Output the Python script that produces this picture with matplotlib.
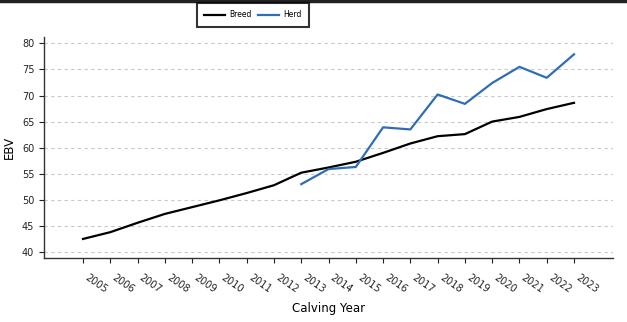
import matplotlib
matplotlib.use("Agg")
import matplotlib.pyplot as plt
from matplotlib.lines import Line2D
from matplotlib.transforms import ScaledTranslation

years = list(range(2005, 2024))
breed = [42.5, 43.8, 45.6, 47.3, 48.6, 49.9, 51.3, 52.8, 55.2, 56.2,
         57.3, 59.0, 60.8, 62.2, 62.6, 65.0, 65.9, 67.4, 68.6]
herd_years = list(range(2013, 2024))
herd = [53.0, 55.9, 56.3, 63.9, 63.5, 70.2, 68.4, 72.4, 75.5, 73.4, 77.9]
y_ticks = [40, 45, 50, 55, 60, 65, 70, 75, 80]

fig = plt.figure(figsize=(6.27, 3.22), dpi=100)
ax = fig.add_axes([0.0702, 0.1988, 0.9075, 0.686])

ax.plot(years, breed, color="black", lw=1.6, label="Breed")
ax.plot(herd_years, herd, color="#2f6db8", lw=1.6, label="Herd")

ax.set_xlim(2003.57, 2024.43)
ax.set_ylim(38.85, 81.2)
ax.set_yticks(y_ticks)
ax.set_xticks(years)
ax.set_xticklabels([str(y) for y in years], rotation=-35, ha="left",
                   rotation_mode="default")
shift = ScaledTranslation(-4 / 100, 0, fig.dpi_scale_trans)
for lbl in ax.get_xticklabels():
    lbl.set_transform(lbl.get_transform() + shift)
ax.tick_params(axis="both", labelsize=7, length=3.5, width=0.8, colors="#222222")
ax.tick_params(axis="x", pad=7)
ax.yaxis.grid(True, linestyle=(0, (3, 3)), color="#c8c8c8", lw=0.8)
ax.set_axisbelow(True)

for side in ("top", "right"):
    ax.spines[side].set_visible(False)
for side in ("left", "bottom"):
    ax.spines[side].set_color("#333333")
    ax.spines[side].set_linewidth(1.0)

ax.set_ylabel("EBV", fontsize=8.5, labelpad=4)
ax.set_xlabel("Calving Year", fontsize=8.5, labelpad=5)

leg = fig.legend(loc="upper center", bbox_to_anchor=(253 / 627, 1 - 3 / 322),
                 ncol=2, fontsize=5.5, frameon=True, fancybox=False,
                 handlelength=2.7, handletextpad=0.6, columnspacing=0.9,
                 borderpad=0.95, borderaxespad=0)
leg.get_frame().set_edgecolor("black")
leg.get_frame().set_linewidth(1.5)

# dark rule along the top edge
fig.add_artist(Line2D([0, 1], [0.996, 0.996], transform=fig.transFigure,
                      color="#222222", lw=2.5))

fig.savefig("out.png", dpi=100)
